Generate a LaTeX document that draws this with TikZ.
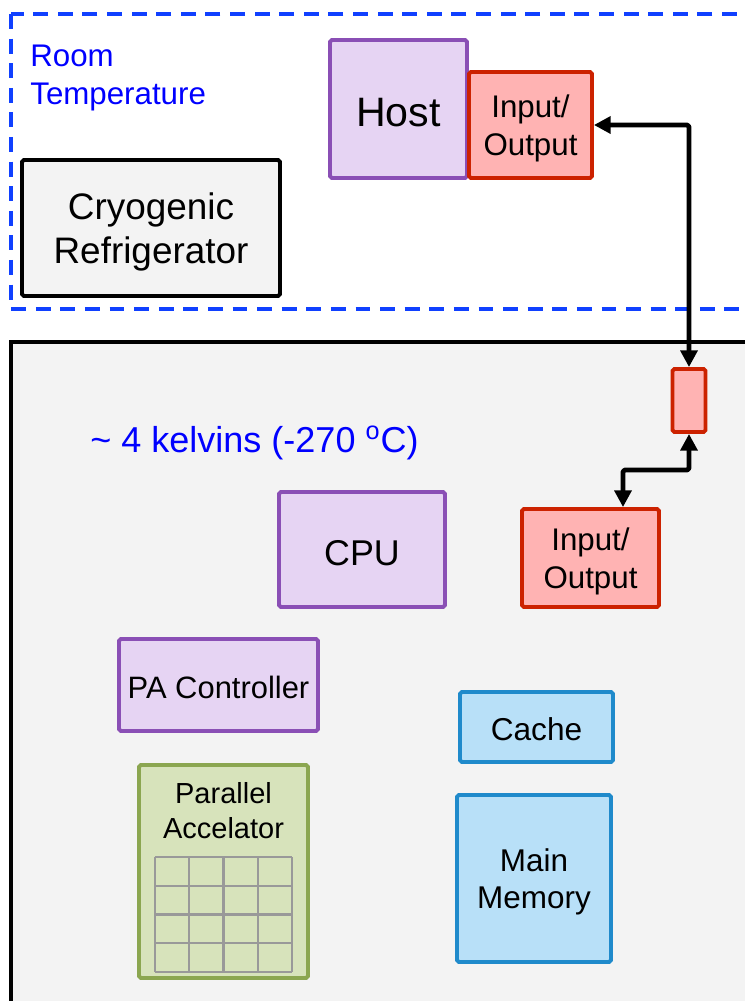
\documentclass[tikz,border=0pt]{standalone}
\usepackage{fontspec}
\setmainfont{Liberation Sans}
\usetikzlibrary{arrows.meta}
\definecolor{bggray}{HTML}{F3F3F3}
\definecolor{roomblue}{HTML}{1040FF}
\definecolor{txtblue}{HTML}{0000FF}
\definecolor{purplefill}{HTML}{E6D4F3}
\definecolor{purpleline}{HTML}{8A4FB5}
\definecolor{redfill}{HTML}{FFB3B3}
\definecolor{redline}{HTML}{CC2200}
\definecolor{bluefill}{HTML}{B8E0F8}
\definecolor{blueline}{HTML}{1F8ACB}
\definecolor{greenfill}{HTML}{D7E3BB}
\definecolor{greenline}{HTML}{8BA650}
\newcommand{\fsz}[1]{\fontsize{#1pt}{1.2\dimexpr#1pt\relax}\selectfont}
\begin{document}
\begin{tikzpicture}[x=0.02cm,y=-0.02cm,
	box/.style={draw,line width=2.2pt,rounded corners=1pt,inner sep=0pt,align=center,text depth=0pt},
	onerow/.style={text height=#1},
	cpubox/.style={box,draw=purpleline,fill=purplefill},
	iobox/.style={box,draw=redline,fill=redfill},
	membox/.style={box,draw=blueline,fill=bluefill},
	accbox/.style={box,draw=greenline,fill=greenfill},
	conn/.style={line width=2.7pt,line join=round,rounded corners=1pt,{Triangle[length=9.5pt,width=9.5pt]}-{Triangle[length=9.5pt,width=9.5pt]}},
	gridline/.style={draw=black!40,line width=1.2pt}]
			\useasboundingbox (0,0) rectangle (744,1001);
			\fill[white] (0,0) rectangle (744,1001);
			% cold side and room side
			\draw[line width=2.2pt,fill=bggray] (11,342) rectangle (780,1040);
			\draw[roomblue,line width=2.3pt,dash pattern=on 8.5pt off 5.5pt] (11,14) rectangle (780,309);
			\node[anchor=west,align=left,text=txtblue,font=\fsz{17.8},inner sep=0pt] (room) at (30,78) {Room\\Temperature};
			\node[anchor=west,text=txtblue,font=\fsz{20.5},inner sep=0pt] (kelvin) at (90,443) {\textasciitilde{} 4 kelvins (-270 \textsuperscript{o}C)};
			% boxes
			\node[box,fill=bggray,minimum width=5.16cm,minimum height=2.72cm,font=\fsz{21}] (cryo) at (151,228) {Cryogenic\\Refrigerator};
			\node[cpubox,onerow=20.4pt,minimum width=2.74cm,minimum height=2.76cm,font=\fsz{23.4}] (host) at (398.5,109) {Host};
			\node[iobox,minimum width=2.46cm,minimum height=2.12cm,font=\fsz{17.8}] (iotop) at (530.5,125) {Input/\\Output};
			\node[iobox,minimum width=0.66cm,minimum height=1.26cm] (link) at (689,400.5) {};
			\node[cpubox,onerow=17.7pt,minimum width=3.32cm,minimum height=2.3cm,font=\fsz{20.4}] (cpu) at (362,549.5) {CPU};
			\node[iobox,minimum width=2.74cm,minimum height=1.96cm,font=\fsz{17.8}] (iolow) at (590.5,558) {Input/\\Output};
			\node[cpubox,onerow=15.3pt,minimum width=3.98cm,minimum height=1.84cm,font=\fsz{17.6}] (pactrl) at (218.5,685) {PA Controller};
			\node[membox,onerow=15.7pt,minimum width=3.06cm,minimum height=1.4cm,font=\fsz{18}] (cache) at (536.5,727) {Cache};
			\node[membox,minimum width=3.08cm,minimum height=3.34cm,font=\fsz{17.9}] (mem) at (534,878.5) {Main\\Memory};
			\node[accbox,minimum width=3.38cm,minimum height=4.26cm] (paccel) at (223.5,871.5) {};
			\node[align=center,font=\fsz{16.5},inner sep=0pt] (paname) at (223.5,811) {Parallel\\Accelator};
			\foreach \i in {0,...,4} {
				\draw[gridline] (155+34.25*\i,857) -- (155+34.25*\i,972);
				\draw[gridline] (155,857+28.75*\i) -- (292,857+28.75*\i);
			}
			% links
			\coordinate (kn) at (623,470);
			\draw[conn] (iotop.east) -| (link.north);
			\draw[conn] (link.south) |- (kn) -- (kn |- iolow.north);
		\end{tikzpicture}
\end{document}
